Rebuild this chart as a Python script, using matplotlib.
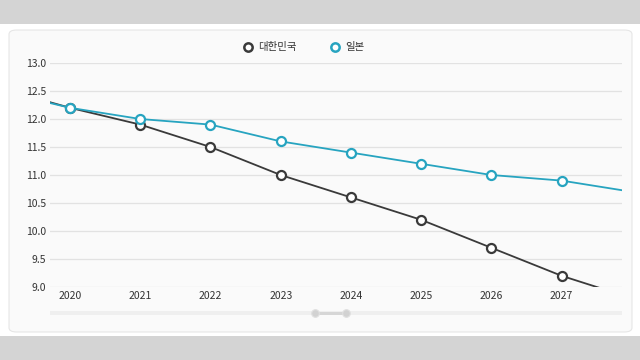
import matplotlib.pyplot as plt
from matplotlib.patches import FancyBboxPatch, Rectangle
from matplotlib.lines import Line2D

plt.rcParams['font.family'] = ['Noto Sans CJK KR', 'DejaVu Sans']

# data (2019 and 2028 points are partly outside the visible window)
years = [2019, 2020, 2021, 2022, 2023, 2024, 2025, 2026, 2027, 2028]
korea = [12.55, 12.2, 11.9, 11.5, 11.0, 10.6, 10.2, 9.7, 9.2, 8.8]
japan = [12.5, 12.2, 12.0, 11.9, 11.6, 11.4, 11.2, 11.0, 10.9, 10.7]
tick_years = [2020, 2021, 2022, 2023, 2024, 2025, 2026, 2027]
yticks = [9.0, 9.5, 10.0, 10.5, 11.0, 11.5, 12.0, 12.5, 13.0]

c_kor = '#3a3a3a'
c_jpn = '#27a4c0'
W, H = 640, 360

fig = plt.figure(figsize=(6.4, 3.6), dpi=100)
fig.patch.set_facecolor('white')

# gray bands top and bottom
for y0, h in [(0, 24), (336, 24)]:
    fig.patches.append(Rectangle((0, 1 - (y0 + h) / H), 1, h / H,
                                 transform=fig.transFigure, facecolor='#d4d4d4',
                                 edgecolor='none', zorder=-2))

# card
card = FancyBboxPatch((9 / W, 1 - 332 / H), 623 / W, 302 / H,
                      boxstyle="round,pad=0,rounding_size=0.012",
                      transform=fig.transFigure, facecolor='#fafafa',
                      edgecolor='#e6e6e6', linewidth=0.8, zorder=-1)
fig.patches.append(card)

ax = fig.add_axes([50 / W, 1 - 287 / H, 572 / W, 224 / H])
ax.set_facecolor('none')
ax.plot(years, korea, color=c_kor, lw=1.3, marker='o', ms=6.5,
        mfc='white', mec=c_kor, mew=1.6, zorder=3)
ax.plot(years, japan, color=c_jpn, lw=1.3, marker='o', ms=6.5,
        mfc='white', mec=c_jpn, mew=1.6, zorder=3)

ax.set_xlim(2019.715, 2027.86)
ax.set_ylim(9.0, 13.0)
ax.set_xticks(tick_years)
ax.set_xticklabels([str(y) for y in tick_years])
ax.set_yticks(yticks)
ax.set_yticklabels([f'{v:.1f}' for v in yticks])
ax.grid(axis='y', color='#e2e2e2', lw=0.9)
ax.set_axisbelow(True)
for s in ax.spines.values():
    s.set_visible(False)
ax.tick_params(axis='both', length=0, labelsize=7.5, colors='#333333')
ax.tick_params(axis='x', pad=3)
ax.tick_params(axis='y', pad=3)

# legend
for mx, tx, col, lab in [(248, 258, c_kor, '대한민국'), (335, 345, c_jpn, '일본')]:
    fig.lines.append(Line2D([mx / W], [1 - 47 / H], marker='o', ms=6, mfc='white',
                            mec=col, mew=1.8, transform=fig.transFigure))
    fig.text(tx / W, 1 - 47 / H, lab, fontsize=7.5, color='#333333',
             va='center', ha='left')

# zoom slider
fig.patches.append(Rectangle((50 / W, 1 - 315 / H), 572 / W, 4 / H,
                             transform=fig.transFigure, facecolor='#efefef',
                             edgecolor='none'))
fig.patches.append(Rectangle((315 / W, 1 - 314.5 / H), 31 / W, 3 / H,
                             transform=fig.transFigure, facecolor='#d6d6d6',
                             edgecolor='none'))
for hx in (315, 346):
    fig.lines.append(Line2D([hx / W], [1 - 313 / H], marker='o', ms=5.5,
                            mfc='#d2d2d2', mec='#e0e0e0', mew=0.8,
                            transform=fig.transFigure))

fig.savefig('out.png', dpi=100, facecolor=fig.get_facecolor())
